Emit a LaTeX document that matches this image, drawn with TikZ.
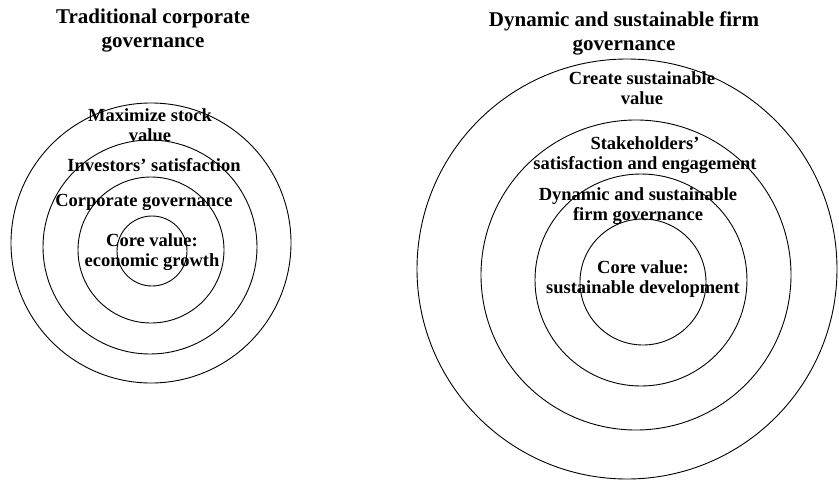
\documentclass[tikz,border=0pt]{standalone}
\usepackage{fontspec}
\setmainfont{Liberation Serif}
\usetikzlibrary{positioning}

\begin{document}
\begin{tikzpicture}[x=1pt,y=-1pt,ring/.style={line width=.9pt},lbl/.style={align=center,font=\bfseries\fontsize{18.5}{20.5}\selectfont,inner sep=0pt},ttlstyle/.style={align=center,font=\bfseries\fontsize{21}{24}\selectfont,inner sep=0pt}]
			\useasboundingbox (0,0) rectangle (839,482);
			% traditional
			\node[ttlstyle] (ttl) at (153,31) {Traditional corporate\\governance};
			\draw[ring] (151,243) circle (140); \draw[ring] (150,247) circle (107);
			\draw[ring] (151,250) circle (73); \draw[ring] (152,251) circle (35);
			\node[lbl] (tmax) at (150,125) {Maximize stock\\value};
			\node[lbl] (tinv) at (154,165) {Investors' satisfaction};
			\node[lbl] (tcor) at (144,202) {Corporate governance};
			\node[lbl] (tcore) at (152,252) {Core value:\\economic growth};
			
			% dynamic and sustainable
			\node[ttlstyle] (dttl) at (624,33) {Dynamic and sustainable firm\\governance};
			\draw[ring] (627,269) circle (210); \draw[ring] (636,275) circle (155);
			\draw[ring] (641,280) circle (106); \draw[ring] (643,282) circle (63);
			\node[lbl] (dval) at (642,88) {Create sustainable\\value};
			\node[lbl] (dsta) at (645,155) {Stakeholders'\\satisfaction and engagement};
			\node[lbl] (dfir) at (638,206) {Dynamic and sustainable\\firm governance};
			\node[lbl] (dcore) at (643,279) {Core value:\\sustainable development};
\end{tikzpicture}
\end{document}
